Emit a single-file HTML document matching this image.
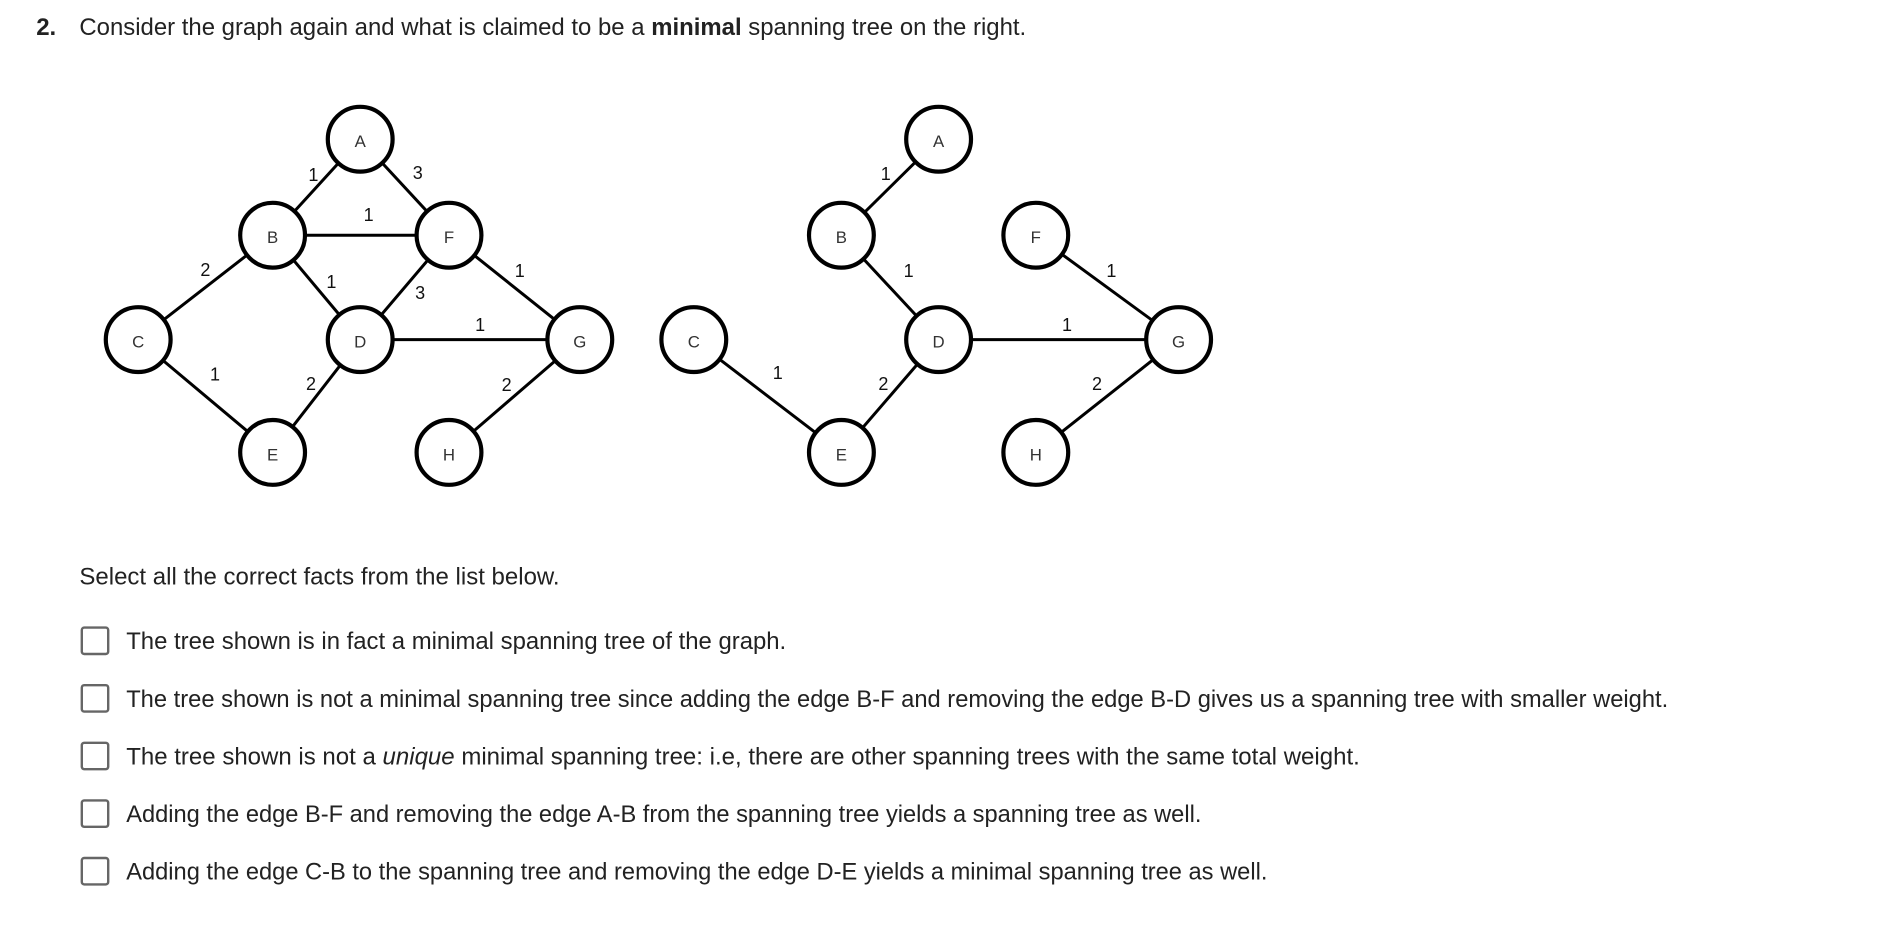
<!DOCTYPE html>
<html><head><meta charset="utf-8"><style>
html,body{margin:0;padding:0;background:#fff;width:1882px;height:936px;overflow:hidden}
svg{display:block}
text{font-family:"Liberation Sans",sans-serif;fill:#222}
.n{font-size:14px;fill:#333;text-anchor:middle;dominant-baseline:central}
.w{font-size:15px;fill:#111;text-anchor:middle;dominant-baseline:central}
.t{font-size:20px}
</style></head><body>
<svg width="1882" height="936" viewBox="0 0 1568 780">
<text class="t" x="30" y="29" font-weight="bold">2.</text>
<text class="t" x="66" y="29" textLength="789" lengthAdjust="spacingAndGlyphs">Consider the graph again and what is claimed to be a <tspan font-weight="bold">minimal</tspan> spanning tree on the right.</text>
<g stroke="#000" stroke-width="2.5">
<line x1="300" y1="116" x2="227" y2="196"/><line x1="300" y1="116" x2="374" y2="196"/>
<line x1="227" y1="196" x2="374" y2="196"/><line x1="227" y1="196" x2="115" y2="283"/>
<line x1="227" y1="196" x2="300" y2="283"/><line x1="374" y1="196" x2="300" y2="283"/>
<line x1="374" y1="196" x2="483" y2="283"/><line x1="300" y1="283" x2="483" y2="283"/>
<line x1="115" y1="283" x2="227" y2="377"/><line x1="227" y1="377" x2="300" y2="283"/>
<line x1="374" y1="377" x2="483" y2="283"/>
<line x1="782" y1="116" x2="701" y2="196"/><line x1="701" y1="196" x2="782" y2="283"/>
<line x1="782" y1="283" x2="982" y2="283"/><line x1="863" y1="196" x2="982" y2="283"/>
<line x1="578" y1="283" x2="701" y2="377"/><line x1="701" y1="377" x2="782" y2="283"/>
<line x1="863" y1="377" x2="982" y2="283"/>
</g>
<g fill="#fff" stroke="#000" stroke-width="3.5">
<circle cx="300" cy="116" r="27"/><circle cx="227" cy="196" r="27"/><circle cx="374" cy="196" r="27"/>
<circle cx="115" cy="283" r="27"/><circle cx="300" cy="283" r="27"/><circle cx="483" cy="283" r="27"/>
<circle cx="227" cy="377" r="27"/><circle cx="374" cy="377" r="27"/>
<circle cx="782" cy="116" r="27"/><circle cx="701" cy="196" r="27"/><circle cx="863" cy="196" r="27"/>
<circle cx="578" cy="283" r="27"/><circle cx="782" cy="283" r="27"/><circle cx="982" cy="283" r="27"/>
<circle cx="701" cy="377" r="27"/><circle cx="863" cy="377" r="27"/>
</g>
<text class="n" x="300" y="118">A</text><text class="n" x="227" y="198">B</text><text class="n" x="374" y="198">F</text>
<text class="n" x="115" y="285">C</text><text class="n" x="300" y="285">D</text><text class="n" x="483" y="285">G</text>
<text class="n" x="227" y="379">E</text><text class="n" x="374" y="379">H</text>
<text class="n" x="782" y="118">A</text><text class="n" x="701" y="198">B</text><text class="n" x="863" y="198">F</text>
<text class="n" x="578" y="285">C</text><text class="n" x="782" y="285">D</text><text class="n" x="982" y="285">G</text>
<text class="n" x="701" y="379">E</text><text class="n" x="863" y="379">H</text>
<text class="w" x="261" y="146">1</text><text class="w" x="348" y="144">3</text><text class="w" x="307" y="179">1</text>
<text class="w" x="171" y="225">2</text><text class="w" x="276" y="235">1</text><text class="w" x="350" y="244">3</text>
<text class="w" x="433" y="226">1</text><text class="w" x="400" y="271">1</text><text class="w" x="179" y="312">1</text>
<text class="w" x="259" y="320">2</text><text class="w" x="422" y="321">2</text>
<text class="w" x="738" y="145">1</text><text class="w" x="757" y="226">1</text><text class="w" x="889" y="271">1</text>
<text class="w" x="926" y="226">1</text><text class="w" x="648" y="311">1</text><text class="w" x="736" y="320">2</text>
<text class="w" x="914" y="320">2</text>
<text class="t" x="66" y="487">Select all the correct facts from the list below.</text>
<g fill="#fff" stroke="#666" stroke-width="2">
<rect x="68" y="523" width="22" height="22" rx="2"/><rect x="68" y="571" width="22" height="22" rx="2"/>
<rect x="68" y="619" width="22" height="22" rx="2"/><rect x="68" y="667" width="22" height="22" rx="2"/>
<rect x="68" y="715" width="22" height="22" rx="2"/>
</g>
<text class="t" x="105" y="541" textLength="550" lengthAdjust="spacingAndGlyphs">The tree shown is in fact a minimal spanning tree of the graph.</text>
<text class="t" x="105" y="589" textLength="1285" lengthAdjust="spacingAndGlyphs">The tree shown is not a minimal spanning tree since adding the edge B-F and removing the edge B-D gives us a spanning tree with smaller weight.</text>
<text class="t" x="105" y="637" textLength="1028" lengthAdjust="spacingAndGlyphs">The tree shown is not a <tspan font-style="italic">unique</tspan> minimal spanning tree: i.e, there are other spanning trees with the same total weight.</text>
<text class="t" x="105" y="685" textLength="896" lengthAdjust="spacingAndGlyphs">Adding the edge B-F and removing the edge A-B from the spanning tree yields a spanning tree as well.</text>
<text class="t" x="105" y="733" textLength="951" lengthAdjust="spacingAndGlyphs">Adding the edge C-B to the spanning tree and removing the edge D-E yields a minimal spanning tree as well.</text>
</svg>
</body></html>
